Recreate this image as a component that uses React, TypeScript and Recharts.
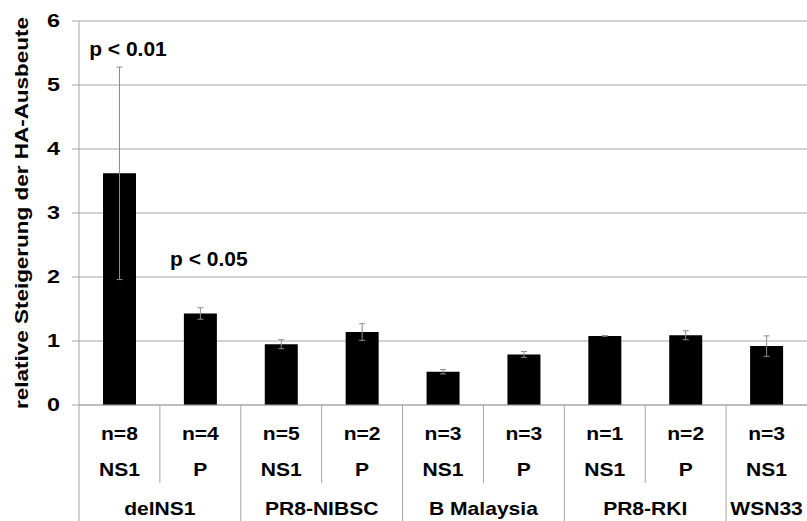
import React from 'react'
import {
  BarChart,
  Bar,
  XAxis,
  YAxis,
  CartesianGrid,
  ErrorBar,
  ReferenceDot,
  Label,
} from 'recharts'

const groups = ['delNS1', 'delNS1', 'PR8-NIBSC', 'PR8-NIBSC', 'B Malaysia', 'B Malaysia', 'PR8-RKI', 'PR8-RKI', 'WSN33']
const genes = ['NS1', 'P', 'NS1', 'P', 'NS1', 'P', 'NS1', 'P', 'NS1']
const nCounts = [8, 4, 5, 2, 3, 3, 1, 2, 3]
const values = [3.62, 1.43, 0.95, 1.14, 0.52, 0.79, 1.08, 1.09, 0.92]
const errors = [1.66, 0.09, 0.07, 0.13, 0.035, 0.045, 0.005, 0.07, 0.16]
const yTicks = [0, 1, 2, 3, 4, 5, 6]
const notes = [
  { index: 0, text: 'p < 0.01', y: 5.56 },
  { index: 1, text: 'p < 0.05', y: 2.28 },
]

const data = values.map((v, i) => ({
  id: `c${i}`,
  group: groups[i],
  gene: genes[i],
  n: nCounts[i],
  value: v,
  err: errors[i],
}))

const FONT = 'Arial, "Liberation Sans", sans-serif'
const GRID = '#a6a6a6'
const STRETCH = 1.17

// the original figure is a little wider than tall, so text is stretched sideways
function SText({ x, y, size = 18, anchor = 'middle', dy, sx = STRETCH, children }: any) {
  return (
    <text
      transform={`translate(${x},${y}) scale(${sx},1)`}
      x={0}
      y={0}
      dy={dy}
      textAnchor={anchor}
      fontFamily={FONT}
      fontWeight={700}
      fontSize={size}
      fill="#000"
    >
      {children}
    </text>
  )
}

function MultiTick(props: any) {
  const { x, y, payload, width } = props
  const i = payload.index ?? data.findIndex((d) => d.id === payload.value)
  const d = data[i]
  const bw = (width || 728) / data.length
  const left = x - bw / 2
  const groupStart = i === 0 || groups[i - 1] !== d.group
  let span = 0
  if (groupStart) {
    while (i + span < groups.length && groups[i + span] === d.group) span++
  }
  return (
    <g>
      <line x1={left} x2={left} y1={y} y2={groupStart ? y + 116 : y + 78} stroke={GRID} />
      <SText x={x} y={y + 35}>n={d.n}</SText>
      <SText x={x} y={y + 71}>{d.gene}</SText>
      {groupStart && <SText x={left + (span * bw) / 2} y={y + 110}>{d.group}</SText>}
    </g>
  )
}

function YTick(props: any) {
  const { x, y, payload } = props
  return (
    <SText x={x} y={y} anchor="end" dy="0.36em" sx={1.3}>
      {payload.value}
    </SText>
  )
}

function NoteMark(props: any) {
  const { cx, cy, text } = props
  return (
    <SText x={cx + 8.5} y={cy} size={20} sx={1.05} dy="0.36em">
      {text}
    </SText>
  )
}

export default function App() {
  return (
    <div style={{ position: 'absolute', left: 0, top: 0, width: 807, height: 521, background: '#fff' }}>
      <BarChart
        width={807}
        height={521}
        data={data}
        margin={{ top: 21, right: 0, left: 0, bottom: 0 }}
        barCategoryGap={0}
      >
        <CartesianGrid vertical={false} stroke={GRID} />
        <XAxis
          dataKey="id"
          height={116}
          interval={0}
          tickLine={false}
          tickSize={0}
          tickMargin={0}
          axisLine={{ stroke: GRID }}
          tick={<MultiTick />}
        />
        <YAxis
          domain={[0, 6]}
          ticks={yTicks}
          width={79}
          tickSize={7}
          tickMargin={12}
          tickLine={{ stroke: GRID }}
          axisLine={{ stroke: GRID }}
          tick={<YTick />}
        >
          <Label
            content={(p: any) => {
              const vb = p.viewBox || { x: 0, y: 21, width: 79, height: 384 }
              const cy = vb.y + vb.height / 2
              return (
                <text
                  transform={`translate(28,${cy}) rotate(-90)`}
                  textAnchor="middle"
                  fontFamily={FONT}
                  fontWeight={700}
                  fontSize={18}
                  fill="#000"
                  textLength={392}
                  lengthAdjust="spacingAndGlyphs"
                >
                  relative Steigerung der HA-Ausbeute
                </text>
              )
            }}
          />
        </YAxis>
        <Bar dataKey="value" fill="#000" barSize={33} isAnimationActive={false}>
          <ErrorBar dataKey="err" width={3} stroke="#8c8c8c" strokeWidth={1} />
        </Bar>
        {notes.map((n) => (
          <ReferenceDot
            key={n.text}
            x={data[n.index].id}
            y={n.y}
            r={0}
            shape={(p: any) => <NoteMark {...p} text={n.text} />}
          />
        ))}
      </BarChart>
    </div>
  )
}
